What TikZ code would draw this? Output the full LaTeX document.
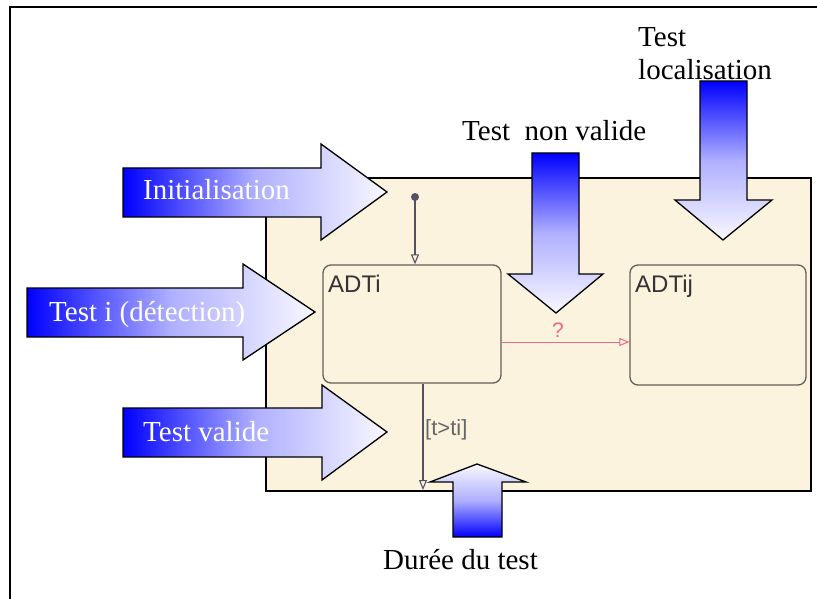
\documentclass[tikz,border=0pt]{standalone}
\usepackage{fontspec}
\setmainfont{Liberation Serif}
\newfontfamily\arialfont{Liberation Sans}
\usetikzlibrary{arrows.meta}
\definecolor{beige}{RGB}{252,243,223}
\definecolor{lightend}{RGB}{248,248,255}
\definecolor{midblue}{RGB}{175,175,255}
\definecolor{statecol}{RGB}{100,95,85}
\definecolor{transcol}{RGB}{85,80,100}
\definecolor{pinkcol}{RGB}{228,105,140}
\begin{document}
\begin{tikzpicture}[x=1pt,y=-1pt,
  bigarrow/.style={draw=black, line width=1.3pt, line join=miter},
  hshade/.style={left color=blue, right color=lightend, middle color=midblue},
  dshade/.style={top color=blue, bottom color=lightend, middle color=midblue},
  ushade/.style={bottom color=blue, top color=lightend, middle color=midblue},
  arrowtext/.style={font=\fontsize{29}{29}\selectfont, text=white, anchor=base west, inner sep=0pt},
  plaintext/.style={font=\fontsize{29}{29}\selectfont, text=black, anchor=base west, inner sep=0pt},
  statebox/.style={draw=statecol, line width=1.3pt, rounded corners=8pt, fill=beige},
  statelabel/.style={font=\arialfont\fontsize{24}{24}\selectfont, text=black!80, anchor=base west, inner sep=0pt},
  trans/.style={draw=transcol, line width=1.1pt, -{Triangle[open, length=10pt, width=8pt]}},
  redtrans/.style={draw=pinkcol, line width=1pt, -{Triangle[open, length=10pt, width=8pt]}},
]
\useasboundingbox (0,0) rectangle (817,599);
% outer frame
\draw[line width=1.5pt] (10,599) -- (10,7) -- (817,7);
% panel
\filldraw[fill=beige, draw=black, line width=1.3pt] (266,178) rectangle (811,491);
% states
\node[statebox, minimum width=178pt, minimum height=118pt] (adti) at (412,324) {};
\node[statelabel] (adtilbl) at (328,292) {ADTi};
\node[statebox, minimum width=176pt, minimum height=120pt] (adtij) at (718,325) {};
\node[statelabel] (adtijlbl) at (635,292) {ADTij};
% initial
\fill[transcol] (415,197) circle (4);
\coordinate (init) at (415,197);
\draw[trans] (init) -- (init |- adti.north);
% bottom transition
\coordinate (bend) at (423,490);
\draw[trans] (bend |- adti.south) -- (bend);
\node[font=\arialfont\fontsize{22}{22}\selectfont, text=black!60, anchor=west, inner sep=0pt] (guard) at (425,430) {[t>ti]};
% red transition
\coordinate (rstart) at ([yshift=-18pt]adti.east);
\draw[redtrans] (rstart) -- (adtij.west |- rstart);
\node[font=\arialfont\fontsize{21}{21}\selectfont, text=pinkcol, inner sep=0pt] (qm) at (558,330) {?};
% horizontal arrows
\shadedraw[bigarrow, hshade] (123,168) -- (321,168) -- (321,144) -- (387,192) -- (321,240) -- (321,217) -- (123,217) -- cycle;
\node[arrowtext] (tinit) at (143,200) {Initialisation};
\shadedraw[bigarrow, hshade] (27,288) -- (243,288) -- (243,264) -- (315,312) -- (243,360) -- (243,337) -- (27,337) -- cycle;
\node[arrowtext] (tdet) at (49,321) {Test i (détection)};
\shadedraw[bigarrow, hshade] (123,408) -- (322,408) -- (322,385) -- (387,432) -- (322,480) -- (322,457) -- (123,457) -- cycle;
\node[arrowtext] (tval) at (143,441) {Test valide};
% vertical arrows
\shadedraw[bigarrow, dshade] (532,153) -- (579,153) -- (579,274) -- (603,274) -- (556,313) -- (508,274) -- (532,274) -- cycle;
\node[plaintext] (tnv) at (462,141) {Test~~non valide};
\shadedraw[bigarrow, dshade] (700,81) -- (747,81) -- (747,200) -- (772,200) -- (723,240) -- (675,200) -- (700,200) -- cycle;
\node[plaintext] (tloc1) at (638,47) {Test};
\node[plaintext] (tloc2) at (638,80) {localisation};
\shadedraw[bigarrow, ushade] (453,537) -- (502,537) -- (502,482) -- (526,482) -- (477,464) -- (430,482) -- (453,482) -- cycle;
\node[plaintext] (tdur) at (383,569) {Durée du test};
\end{tikzpicture}
\end{document}
